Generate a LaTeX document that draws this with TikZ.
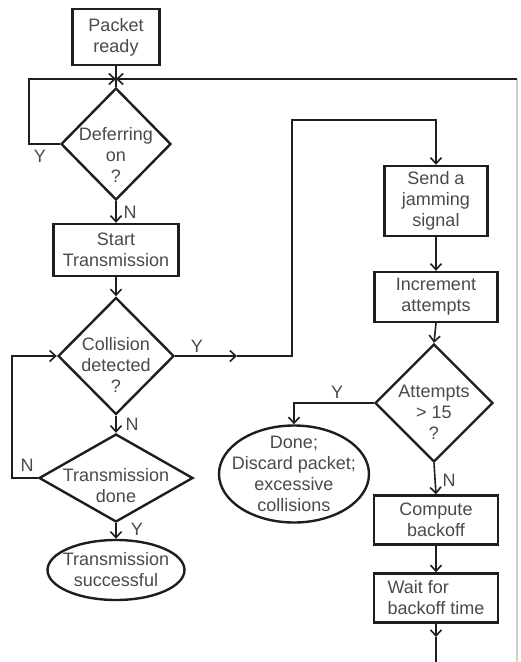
\documentclass[tikz,border=0pt]{standalone}
\usepackage{fontspec}
\setmainfont{Liberation Sans}
\usetikzlibrary{positioning,arrows.meta,shapes.geometric}
\definecolor{cLine}{HTML}{1E1E1E}
\definecolor{cText}{HTML}{4A4A4A}
\definecolor{cFaint}{HTML}{CFCFCF}

\begin{document}
\begin{tikzpicture}[
  x=1pt,y=-1pt,
  font=\fontsize{18}{21}\selectfont,
  >={Straight Barb[length=6pt,width=11pt]},
  block/.style   ={draw=cLine,line width=2.4pt,fill=white,text=cText,align=center,inner sep=2pt},
  decision/.style={diamond,draw=cLine,line width=2.4pt,fill=white,inner sep=0pt},
  term/.style    ={ellipse,draw=cLine,line width=2.4pt,fill=white,inner sep=0pt},
  txt/.style     ={text=cText,align=center,inner sep=0pt},
  flow/.style    ={->,line width=1.6pt,draw=cLine},
  wire/.style    ={line width=1.6pt,draw=cLine},
  faint/.style   ={line width=1.2pt,draw=cFaint},
  lab/.style     ={text=cText,inner sep=0pt},
]
\useasboundingbox (0,0) rectangle (520,662);

% =====================================================================
% LEFT COLUMN: DEFER, TRANSMIT, WATCH FOR COLLISIONS
% =====================================================================
\node[block,minimum width=87,minimum height=56] (pkt) at (116,37) {Packet\\ready};
\coordinate (merge) at (116,79);

\node[decision,minimum width=110,minimum height=112,
  label={[txt,yshift=-11]center:{Deferring\\on\\?}}] (defer) at (116,144) {};
\node[block,minimum width=125,minimum height=52] (start) at (116,250) {Start\\Transmission};
\node[decision,minimum width=116,minimum height=117,
  label={[txt,yshift=-9]center:{Collision\\detected\\?}}] (coll) at (116,356) {};
\node[decision,minimum width=154,minimum height=88,
  label={[txt,yshift=-8]center:{Transmission\\done}}] (tdone) at (116,478) {};
\node[term,minimum width=137,minimum height=60,
  label={[txt]center:{Transmission\\successful}}] (succ) at (116,570) {};

\draw[wire] (pkt.south) -- (defer.north);

\coordinate (deferLoop) at (29,79);
\draw[flow] (defer.west) -| (deferLoop) -- (merge);
\node[lab] at (40,156) {Y};

\draw[flow] (defer.south) -- (start.north);
\node[lab] at (130,212) {N};
\draw[flow] (start.south) -- (coll.north);

\draw[flow] (coll.south) -- (tdone.north);
\node[lab] at (132,424) {N};

\coordinate (doneLoop) at (12,356);
\draw[flow] (tdone.west) -| (doneLoop) -- (coll.west);
\node[lab] at (27,465) {N};

\draw[flow] (tdone.south) -- (succ.north);
\node[lab] at (137,529) {Y};

% =====================================================================
% RIGHT COLUMN: JAM, COUNT ATTEMPTS, BACK OFF
% =====================================================================
\node[block,minimum width=103,minimum height=70] (jam) at (436,201) {Send a\\jamming\\signal};
\node[block,minimum width=123,minimum height=50] (inc) at (436,297) {Increment\\attempts};
\node[decision,minimum width=118,minimum height=118,
  label={[txt,yshift=-9]center:{Attempts\\> 15\\?}}] (att) at (434,403) {};
\node[term,minimum width=150,minimum height=97,
  label={[txt]center:{Done;\\Discard packet;\\excessive\\collisions}}] (done) at (294,474) {};
\node[block,minimum width=124,minimum height=49] (comp) at (436,520) {Compute\\backoff};
\node[block,minimum width=124,minimum height=49,align=left] (wait) at (436,598) {Wait for\\backoff time};

% collision -> jamming, routed up and over
\coordinate (collArr) at (237,356);
\coordinate (jamTurn) at (292,120);
\draw[flow] (coll.east) -- (collArr);
\node[lab] at (197,346) {Y};
\draw[flow] (collArr) -| (jamTurn) -| (jam.north);

\draw[flow] (jam.south) -- (inc.north);
\draw[flow] (inc.south) -- (att.north);

\draw[flow] (att.west) -| (done.north);
\node[lab] at (337,392) {Y};

\draw[flow] (att.south) -- (comp.north);
\node[lab] at (449,480) {N};
\draw[flow] (comp.south) -- (wait.north);

% return loop back to the top (runs off the page at the bottom)
\coordinate (waitArr) at (436,637);
\coordinate (loopBL) at (436,676);
\coordinate (loopBR) at (517,676);
\coordinate (loopTR) at (517,79);
\draw[flow] (wait.south) -- (waitArr);
\draw[wire] (waitArr) -- (loopBL);
\draw[faint] (loopBL) -- (loopBR) -- (loopTR);
\draw[flow] (loopTR) -- (merge);

\end{tikzpicture}
\end{document}
